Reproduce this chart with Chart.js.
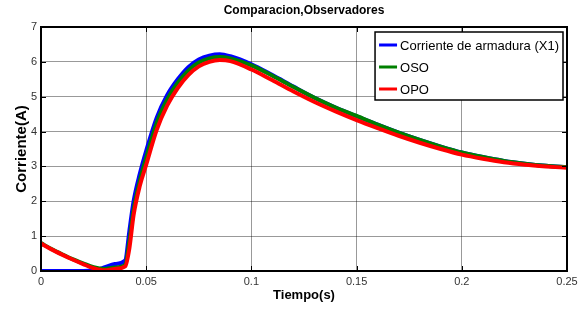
<!DOCTYPE html>
<html>
<head>
<meta charset="utf-8">
<script src="https://cdn.jsdelivr.net/npm/chart.js@4.4.0/dist/chart.umd.min.js"></script>
<style>
  body { margin: 0; background: #fff; }
</style>
</head>
<body>
<canvas id="grafica" width="584" height="310"></canvas>
<script>
// valores
const tiempo = [0, 0.005, 0.01, 0.015, 0.02, 0.025, 0.03, 0.035, 0.04, 0.042, 0.044, 0.047, 0.05, 0.055, 0.06, 0.065, 0.07, 0.075, 0.08, 0.085, 0.09, 0.1, 0.11, 0.12, 0.13, 0.14, 0.15, 0.16, 0.17, 0.18, 0.19, 0.2, 0.21, 0.22, 0.23, 0.24, 0.25];
const corrienteX1 = [0, 0, 0, 0, 0, 0.02, 0.1, 0.2, 0.3, 1.15, 2.0, 2.8, 3.45, 4.4, 5.05, 5.5, 5.85, 6.07, 6.18, 6.22, 6.16, 5.93, 5.62, 5.29, 4.97, 4.69, 4.44, 4.2, 3.97, 3.76, 3.57, 3.4, 3.27, 3.16, 3.08, 3.02, 2.98];
const oso = [0.8, 0.63, 0.48, 0.34, 0.22, 0.11, 0.06, 0.1, 0.18, 0.85, 1.75, 2.6, 3.25, 4.25, 4.92, 5.4, 5.75, 5.98, 6.1, 6.14, 6.1, 5.9, 5.6, 5.28, 4.97, 4.69, 4.45, 4.2, 3.97, 3.76, 3.57, 3.4, 3.27, 3.16, 3.08, 3.02, 2.98];
const opo = [0.79, 0.62, 0.47, 0.33, 0.2, 0.08, 0.02, 0.06, 0.13, 0.65, 1.6, 2.45, 3.05, 4.05, 4.75, 5.25, 5.62, 5.87, 6.0, 6.05, 6.02, 5.78, 5.47, 5.15, 4.85, 4.58, 4.33, 4.1, 3.88, 3.68, 3.5, 3.34, 3.22, 3.12, 3.05, 3.0, 2.96];

const xTicks = [0, 0.05, 0.1, 0.15, 0.2, 0.25];
const xTickLabels = ['0', '0.05', '0.1', '0.15', '0.2', '0.25'];
const yTicks = [0, 1, 2, 3, 4, 5, 6, 7];
const yTickLabels = ['0', '1', '2', '3', '4', '5', '6', '7'];

const puntos = (serie) => tiempo.map((t, i) => ({ x: t, y: serie[i] }));

// marco negro y marcas hacia adentro (estilo matlab)
const marco = {
  id: 'marco',
  afterDatasetsDraw(chart) {
    const { ctx, chartArea: a, scales: { x, y } } = chart;
    ctx.save();
    ctx.strokeStyle = '#000';
    ctx.lineWidth = 1;
    ctx.beginPath();
    xTicks.forEach(v => {
      const px = Math.round(x.getPixelForValue(v)) + 0.5;
      ctx.moveTo(px, a.bottom); ctx.lineTo(px, a.bottom - 5);
      ctx.moveTo(px, a.top); ctx.lineTo(px, a.top + 5);
    });
    yTicks.forEach(v => {
      const py = Math.round(y.getPixelForValue(v)) + 0.5;
      ctx.moveTo(a.left, py); ctx.lineTo(a.left + 5, py);
      ctx.moveTo(a.right, py); ctx.lineTo(a.right - 5, py);
    });
    ctx.stroke();
    ctx.lineWidth = 2;
    ctx.strokeRect(a.left, a.top, a.right - a.left, a.bottom - a.top);
    ctx.restore();
  }
};

const leyenda = {
  id: 'leyenda',
  afterDraw(chart) {
    const { ctx, chartArea: a } = chart;
    const ds = chart.data.datasets;
    ctx.save();
    ctx.font = '13px Arial, "Liberation Sans", sans-serif';
    let ancho = 0;
    ds.forEach(d => { ancho = Math.max(ancho, ctx.measureText(d.label).width); });
    const w = 25 + ancho + 4, h = 68;
    const left = a.right - 4 - w, top = a.top + 5;
    ctx.fillStyle = '#fff';
    ctx.fillRect(left, top, w, h);
    ctx.strokeStyle = '#000';
    ctx.lineWidth = 1.5;
    ctx.strokeRect(left, top, w, h);
    ds.forEach((d, i) => {
      const cy = top + 13 + i * 22;
      ctx.strokeStyle = d.borderColor;
      ctx.lineWidth = 3;
      ctx.beginPath();
      ctx.moveTo(left + 4, cy); ctx.lineTo(left + 22, cy);
      ctx.stroke();
      ctx.fillStyle = '#000';
      ctx.textBaseline = 'middle';
      ctx.fillText(d.label, left + 25, cy + 1);
    });
    ctx.restore();
  }
};

new Chart(document.getElementById('grafica'), {
  type: 'line',
  data: {
    datasets: [
      // order: la primera serie queda abajo, OPO encima
      { label: 'Corriente de armadura (X1)', data: puntos(corrienteX1), borderColor: '#0000ff', order: 3 },
      { label: 'OSO', data: puntos(oso), borderColor: '#008000', order: 2 },
      { label: 'OPO', data: puntos(opo), borderColor: '#ff0000', order: 1 }
    ]
  },
  options: {
    responsive: false,
    animation: false,
    layout: { padding: { left: 10, right: 17, top: 0, bottom: 0 } },
    elements: {
      point: { radius: 0 },
      line: { borderWidth: 4, cubicInterpolationMode: 'monotone', fill: false }
    },
    plugins: {
      legend: { display: false },
      tooltip: { enabled: false },
      title: {
        display: true,
        fullSize: false,
        text: 'Comparacion,Observadores',
        color: '#000',
        font: { family: 'Arial', size: 12, weight: 'bold' },
        padding: { top: 3, bottom: 9.6 }
      }
    },
    scales: {
      x: {
        type: 'linear',
        min: 0, max: 0.25,
        afterBuildTicks: (s) => { s.ticks = xTicks.map(v => ({ value: v })); },
        afterFit: (s) => { s.height = 39; },
        ticks: {
          padding: 4,
          color: '#333',
          font: { family: 'Arial', size: 11 },
          maxRotation: 0,
          callback: (v, i) => xTickLabels[i]
        },
        grid: { color: 'rgba(0,0,0,0.4)', drawTicks: false },
        border: { display: false },
        title: {
          display: true,
          text: 'Tiempo(s)',
          color: '#000',
          font: { family: 'Arial', size: 13, weight: 'bold' },
          padding: { top: 0, bottom: 7 }
        }
      },
      y: {
        min: 0, max: 7,
        afterBuildTicks: (s) => { s.ticks = yTicks.map(v => ({ value: v })); },
        afterFit: (s) => { s.width = 31; },
        ticks: {
          padding: 4,
          color: '#333',
          font: { family: 'Arial', size: 11 },
          callback: (v, i) => yTickLabels[i]
        },
        grid: { color: 'rgba(0,0,0,0.4)', drawTicks: false },
        border: { display: false },
        title: {
          display: true,
          text: 'Corriente(A)',
          color: '#000',
          font: { family: 'Arial', size: 15, weight: 'bold' },
          padding: { top: 3, bottom: 0 }
        }
      }
    }
  },
  plugins: [marco, leyenda]
});
</script>
</body>
</html>
